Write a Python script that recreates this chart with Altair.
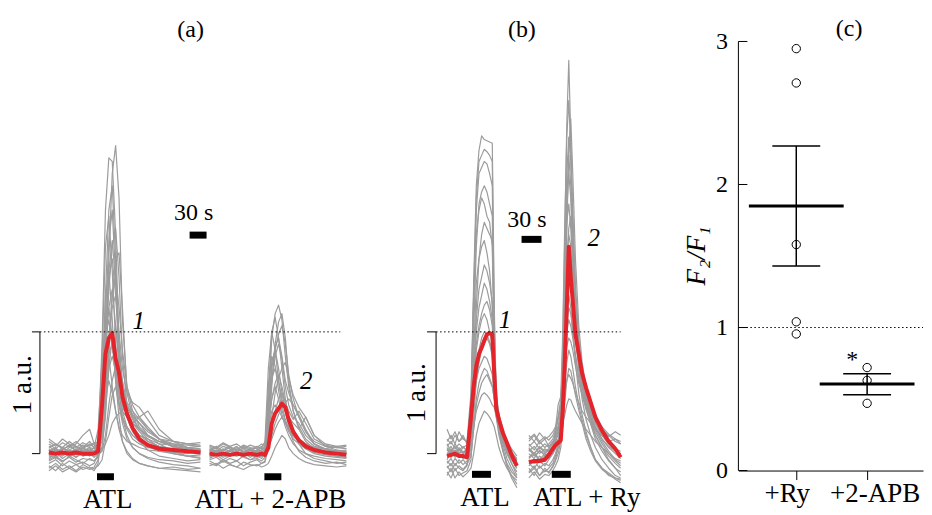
import altair as alt
import pandas as pd

FONT = "Liberation Serif"
GRAY = "#9c9c9c"
RED = "#e5232a"

# ---------------- panel (a): ATL (seconds, a.u.) ----------------
A1_T = [0, 12, 24, 36, 48, 60, 72, 80, 87, 94, 100, 106, 112, 118, 124, 130, 138, 148, 160, 175, 195, 220, 245, 268]
A1_RED = [0.01, 0.00, 0.01, 0.00, 0.01, 0.00, 0.00, 0.00, 0.02, 0.40, 0.82, 0.95, 0.99, 0.78, 0.66, 0.47, 0.33, 0.21, 0.12, 0.07, 0.04, 0.03, 0.02, 0.01]
A1_GRAY = [
    [0.02, 0.05, -0.01, 0.03, 0.00, 0.04, 0.02, 0.01, 0.03, 0.15, 0.70, 1.60, 2.30, 2.53, 2.10, 1.10, 0.55, 0.35, 0.22, 0.15, 0.10, 0.06, 0.04, 0.03],
    [-0.03, 0.00, 0.02, -0.02, 0.01, -0.01, 0.00, 0.02, 0.10, 0.90, 2.00, 2.43, 2.40, 1.80, 0.90, 0.50, 0.35, 0.25, 0.18, 0.10, 0.06, 0.03, 0.02, 0.00],
    [0.05, 0.08, 0.04, 0.06, 0.03, 0.07, 0.05, 0.04, 0.06, 0.40, 1.30, 2.00, 2.20, 1.60, 0.80, 0.45, 0.30, 0.22, 0.15, 0.12, 0.08, 0.07, 0.05, 0.06],
    [-0.08, -0.05, -0.10, -0.06, -0.09, -0.07, -0.10, -0.08, 0.00, 0.80, 1.70, 1.95, 1.50, 0.90, 0.50, 0.30, 0.15, 0.05, 0.00, -0.03, -0.05, -0.06, -0.08, -0.07],
    [0.10, 0.06, 0.12, 0.08, 0.05, 0.09, 0.06, 0.08, 0.10, 0.35, 0.90, 1.50, 1.75, 1.40, 0.90, 0.60, 0.42, 0.35, 0.28, 0.20, 0.12, 0.10, 0.08, 0.09],
    [0.00, 0.03, 0.00, 0.02, -0.01, 0.01, 0.03, 0.00, 0.02, 0.05, 0.30, 0.80, 1.30, 1.60, 1.65, 1.20, 0.50, 0.30, 0.25, 0.18, 0.12, 0.08, 0.05, 0.04],
    [-0.12, -0.08, -0.13, -0.10, -0.14, -0.09, -0.12, -0.11, -0.05, 0.60, 1.30, 1.50, 1.10, 0.60, 0.30, 0.10, 0.00, -0.05, -0.08, -0.10, -0.12, -0.11, -0.13, -0.12],
    [0.03, -0.02, 0.05, 0.01, 0.04, 0.00, 0.02, 0.05, 0.08, 0.30, 0.85, 1.20, 1.35, 1.05, 0.70, 0.48, 0.38, 0.30, 0.30, 0.22, 0.12, 0.06, 0.03, 0.02],
    [0.06, 0.02, 0.00, 0.05, 0.08, 0.15, 0.20, 0.08, 0.04, 0.50, 1.00, 1.20, 0.95, 0.60, 0.40, 0.28, 0.20, 0.12, 0.08, 0.05, 0.04, 0.03, 0.02, 0.01],
    [-0.05, -0.02, -0.06, -0.03, -0.07, -0.04, -0.05, -0.06, -0.03, 0.05, 0.35, 0.70, 0.95, 1.05, 0.80, 0.55, 0.40, 0.32, 0.25, 0.15, 0.08, 0.02, -0.02, -0.04],
    [0.12, 0.08, 0.05, 0.10, 0.06, 0.04, 0.08, 0.05, 0.06, 0.25, 0.60, 0.82, 0.90, 0.70, 0.48, 0.35, 0.40, 0.30, 0.20, 0.15, 0.10, 0.08, 0.07, 0.06],
    [-0.02, 0.01, -0.04, 0.00, -0.03, 0.01, -0.02, 0.00, -0.01, 0.02, 0.15, 0.40, 0.60, 0.72, 0.75, 0.55, 0.35, 0.25, 0.30, 0.20, 0.12, 0.05, 0.02, 0.00],
    [-0.10, -0.14, -0.08, -0.12, -0.15, -0.11, -0.13, -0.12, -0.10, -0.05, 0.10, 0.30, 0.48, 0.55, 0.40, 0.25, 0.12, 0.05, 0.00, -0.04, -0.07, -0.09, -0.10, -0.12],
    [0.02, 0.04, 0.01, 0.03, 0.00, 0.02, 0.04, 0.01, 0.02, 0.03, 0.08, 0.15, 0.25, 0.30, 0.33, 0.35, 0.30, 0.22, 0.15, 0.10, 0.06, 0.04, 0.02, 0.03],
    [0.00, 0.02, 0.04, 0.01, 0.03, 0.05, 0.02, 0.00, 0.03, 0.20, 0.75, 1.35, 1.70, 1.85, 1.45, 0.80, 0.40, 0.28, 0.20, 0.14, 0.10, 0.06, 0.04, 0.02],
    [0.04, 0.00, 0.03, 0.07, 0.02, 0.05, 0.10, 0.05, 0.20, 0.75, 0.95, 0.80, 0.55, 0.35, 0.22, 0.15, 0.10, 0.08, 0.05, 0.03, 0.02, 0.01, 0.00, 0.02],
    [-0.06, -0.03, -0.07, -0.02, -0.05, -0.08, -0.04, -0.06, -0.02, 0.35, 1.05, 1.45, 1.60, 1.30, 0.85, 0.50, 0.30, 0.18, 0.10, 0.03, -0.02, -0.04, -0.06, -0.05],
    [0.08, 0.04, 0.09, 0.06, 0.10, 0.05, 0.07, 0.09, 0.06, 0.15, 0.50, 0.95, 1.20, 1.30, 1.00, 0.70, 0.50, 0.42, 0.38, 0.28, 0.15, 0.10, 0.08, 0.07],
    [-0.04, 0.00, -0.02, 0.02, -0.03, 0.01, -0.01, 0.00, 0.10, 0.60, 0.95, 1.10, 0.90, 0.62, 0.42, 0.30, 0.22, 0.15, 0.10, 0.06, 0.02, 0.00, -0.02, -0.01],
    [0.00, -0.04, 0.02, -0.03, 0.01, -0.02, 0.00, -0.03, 0.00, 0.15, 0.45, 0.70, 0.80, 0.68, 0.50, 0.40, 0.32, 0.25, 0.20, 0.12, 0.05, 0.00, -0.02, -0.03],
    [0.03, 0.00, 0.05, 0.02, 0.00, 0.03, 0.01, 0.02, 0.05, 0.30, 1.10, 1.75, 2.00, 1.45, 0.70, 0.35, 0.22, 0.15, 0.10, 0.08, 0.05, 0.03, 0.02, 0.04],
    [-0.14, -0.10, -0.15, -0.12, -0.09, -0.13, -0.11, -0.14, -0.08, 0.20, 0.45, 0.60, 0.50, 0.35, 0.20, 0.10, 0.02, -0.04, -0.08, -0.10, -0.12, -0.13, -0.14, -0.15],
    [0.01, 0.04, 0.00, 0.03, 0.06, 0.02, 0.05, 0.02, 0.04, 0.10, 0.45, 0.95, 1.30, 1.45, 1.20, 0.85, 0.55, 0.40, 0.30, 0.35, 0.20, 0.10, 0.05, 0.03],
]

# ---------------- panel (a): ATL + 2-APB ----------------
A2_T = [0, 12, 24, 36, 48, 60, 72, 84, 92, 98, 104, 110, 116, 122, 128, 134, 140, 148, 158, 170, 185, 205, 225, 242]
A2_RED = [0.00, -0.01, 0.00, -0.01, 0.00, -0.01, 0.00, -0.01, 0.00, -0.01, 0.05, 0.25, 0.33, 0.37, 0.41, 0.38, 0.28, 0.18, 0.11, 0.06, 0.03, 0.01, 0.00, -0.01]
A2_GRAY = [
    [0.02, 0.05, 0.00, 0.03, 0.06, 0.01, 0.04, 0.02, 0.03, 0.05, 0.40, 0.95, 1.15, 1.22, 1.10, 0.80, 0.55, 0.35, 0.22, 0.12, 0.06, 0.04, 0.02, 0.03],
    [-0.04, -0.01, -0.05, -0.02, 0.00, -0.03, -0.05, -0.02, -0.04, 0.00, 0.50, 1.00, 1.12, 0.95, 0.70, 0.45, 0.30, 0.18, 0.10, 0.04, 0.00, -0.02, -0.03, -0.04],
    [0.05, 0.02, 0.06, 0.04, 0.01, 0.05, 0.03, 0.06, 0.04, 0.05, 0.20, 0.60, 0.85, 0.98, 1.05, 0.90, 0.65, 0.45, 0.30, 0.18, 0.10, 0.06, 0.05, 0.04],
    [0.00, 0.03, 0.01, -0.02, 0.02, 0.00, 0.03, 0.01, -0.01, 0.02, 0.30, 0.70, 0.88, 0.95, 0.80, 0.60, 0.50, 0.40, 0.32, 0.20, 0.08, 0.03, 0.01, 0.02],
    [-0.08, -0.10, -0.06, -0.09, -0.11, -0.07, -0.09, -0.10, -0.08, -0.06, 0.35, 0.75, 0.85, 0.70, 0.50, 0.35, 0.22, 0.10, 0.02, -0.03, -0.06, -0.08, -0.07, -0.09],
    [0.03, 0.00, 0.04, 0.02, 0.05, 0.02, 0.00, 0.03, 0.02, 0.03, 0.10, 0.30, 0.50, 0.62, 0.70, 0.75, 0.62, 0.48, 0.38, 0.30, 0.15, 0.06, 0.03, 0.02],
    [0.06, 0.04, 0.08, 0.05, 0.03, 0.07, 0.05, 0.04, 0.06, 0.05, 0.20, 0.45, 0.58, 0.65, 0.55, 0.42, 0.35, 0.28, 0.35, 0.25, 0.12, 0.07, 0.05, 0.06],
    [-0.05, -0.03, -0.07, -0.04, -0.06, -0.02, -0.05, -0.04, -0.06, -0.03, 0.25, 0.45, 0.55, 0.45, 0.32, 0.22, 0.15, 0.08, 0.03, 0.00, -0.02, -0.04, -0.05, -0.06],
    [0.01, 0.03, 0.00, 0.02, 0.04, 0.01, 0.03, 0.00, 0.02, 0.01, 0.05, 0.15, 0.25, 0.32, 0.38, 0.42, 0.45, 0.40, 0.30, 0.18, 0.08, 0.04, 0.02, 0.01],
    [-0.02, 0.00, -0.03, -0.01, -0.02, 0.00, -0.01, -0.03, -0.02, -0.01, 0.05, 0.12, 0.20, 0.26, 0.30, 0.25, 0.18, 0.12, 0.08, 0.04, 0.01, -0.01, -0.02, -0.03],
    [0.04, 0.01, 0.03, 0.06, 0.02, 0.04, 0.01, 0.03, 0.05, 0.10, 0.70, 1.00, 0.85, 0.60, 0.40, 0.28, 0.20, 0.14, 0.10, 0.06, 0.04, 0.02, 0.03, 0.01],
    [-0.10, -0.08, -0.12, -0.09, -0.11, -0.13, -0.10, -0.09, -0.11, -0.10, -0.08, -0.02, 0.05, 0.10, 0.15, 0.12, 0.05, 0.00, -0.04, -0.07, -0.09, -0.10, -0.11, -0.10],
    [0.02, -0.01, 0.03, 0.00, 0.02, -0.02, 0.01, 0.03, 0.00, 0.02, 0.25, 0.60, 0.80, 0.90, 0.78, 0.55, 0.40, 0.30, 0.25, 0.15, 0.08, 0.03, 0.01, 0.00],
    [-0.03, 0.00, -0.02, 0.02, -0.01, 0.01, -0.03, 0.00, -0.02, 0.00, 0.15, 0.55, 0.90, 1.08, 1.15, 0.95, 0.60, 0.35, 0.20, 0.10, 0.04, 0.00, -0.02, -0.03],
    [0.07, 0.05, 0.09, 0.06, 0.08, 0.04, 0.07, 0.05, 0.08, 0.06, 0.35, 0.62, 0.70, 0.60, 0.45, 0.35, 0.30, 0.25, 0.20, 0.30, 0.15, 0.08, 0.06, 0.07],
    [-0.06, -0.09, -0.05, -0.08, -0.06, -0.10, -0.07, -0.05, -0.08, -0.07, 0.05, 0.20, 0.35, 0.45, 0.50, 0.42, 0.30, 0.18, 0.08, 0.00, -0.04, -0.06, -0.08, -0.07],
    [0.00, 0.02, -0.01, 0.03, 0.00, 0.02, 0.04, 0.01, 0.03, 0.06, 0.55, 0.80, 0.72, 0.52, 0.36, 0.26, 0.20, 0.15, 0.12, 0.08, 0.05, 0.02, 0.01, 0.00],
    [0.03, 0.06, 0.02, 0.05, 0.03, 0.06, 0.04, 0.02, 0.05, 0.03, 0.20, 0.35, 0.40, 0.36, 0.30, 0.25, 0.22, 0.18, 0.12, 0.08, 0.05, 0.04, 0.06, 0.04],
]

# ---------------- panel (b): ATL ----------------
B1_T = [0, 6, 12, 18, 24, 30, 36, 40, 44, 48, 52, 56, 60, 64, 68, 71, 74, 78, 84, 90, 97, 105]
B1_RED = [-0.02, -0.01, 0.00, -0.02, -0.02, -0.03, 0.30, 0.55, 0.72, 0.82, 0.87, 0.93, 0.98, 0.99, 0.98, 0.65, 0.37, 0.28, 0.17, 0.09, -0.01, -0.10]
B1_GRAY = [
    [0.05, 0.00, 0.08, 0.03, 0.06, 0.02, 0.40, 1.40, 2.20, 2.49, 2.61, 2.58, 2.57, 2.56, 2.55, 1.20, 0.45, 0.30, 0.15, 0.05, -0.05, -0.12],
    [-0.05, 0.02, -0.03, 0.00, -0.04, 0.01, 0.30, 1.20, 2.00, 2.30, 2.35, 2.40, 2.38, 2.30, 2.20, 0.90, 0.40, 0.25, 0.12, 0.02, -0.08, -0.15],
    [0.10, 0.15, 0.08, 0.18, 0.12, 0.10, 0.50, 1.30, 1.80, 2.00, 2.10, 2.05, 1.95, 1.90, 1.70, 0.80, 0.45, 0.30, 0.18, 0.10, 0.02, -0.05],
    [-0.10, -0.15, -0.08, -0.12, -0.14, -0.10, 0.10, 0.80, 1.40, 1.60, 1.70, 1.75, 1.65, 1.50, 1.20, 0.60, 0.30, 0.15, 0.02, -0.08, -0.15, -0.20],
    [0.02, 0.06, 0.00, 0.04, 0.01, 0.03, 0.20, 0.70, 1.00, 1.20, 1.30, 1.40, 1.35, 1.25, 1.10, 0.70, 0.40, 0.25, 0.12, 0.05, 0.00, -0.06],
    [0.20, 0.12, 0.18, 0.10, 0.15, 0.08, 0.25, 0.60, 0.85, 1.00, 1.10, 1.15, 1.10, 1.00, 0.90, 0.65, 0.45, 0.32, 0.20, 0.10, 0.04, -0.02],
    [-0.15, -0.20, -0.12, -0.18, -0.16, -0.14, -0.05, 0.30, 0.60, 0.75, 0.85, 0.90, 0.95, 0.90, 0.80, 0.55, 0.35, 0.20, 0.05, -0.10, -0.20, -0.28],
    [0.00, -0.03, 0.02, -0.02, 0.00, -0.04, 0.10, 0.40, 0.60, 0.70, 0.75, 0.80, 0.78, 0.72, 0.65, 0.50, 0.38, 0.25, 0.12, 0.02, -0.05, -0.10],
    [-0.08, -0.04, -0.10, -0.05, -0.09, -0.06, 0.00, 0.20, 0.40, 0.50, 0.58, 0.62, 0.65, 0.60, 0.55, 0.45, 0.35, 0.22, 0.10, 0.00, -0.08, -0.18],
    [0.06, 0.10, 0.04, 0.08, 0.05, 0.07, 0.10, 0.22, 0.35, 0.42, 0.48, 0.50, 0.48, 0.45, 0.40, 0.38, 0.30, 0.20, 0.10, 0.05, 0.00, -0.04],
    [-0.18, -0.12, -0.20, -0.15, -0.19, -0.16, -0.12, 0.00, 0.15, 0.25, 0.30, 0.35, 0.33, 0.30, 0.26, 0.22, 0.15, 0.05, -0.05, -0.12, -0.18, -0.22],
    [0.04, -0.02, 0.03, 0.00, 0.02, -0.01, 0.15, 0.60, 1.20, 1.60, 1.80, 1.90, 1.85, 1.80, 1.75, 1.00, 0.50, 0.32, 0.18, 0.08, 0.00, -0.08],
    [-0.02, 0.03, 0.00, 0.05, 0.01, 0.04, 0.35, 1.30, 2.10, 2.40, 2.45, 2.50, 2.48, 2.45, 2.40, 1.10, 0.42, 0.28, 0.14, 0.04, -0.04, -0.10],
    [0.08, 0.02, 0.06, 0.00, 0.05, 0.03, 0.25, 1.00, 1.70, 2.05, 2.15, 2.20, 2.15, 2.05, 1.95, 0.85, 0.40, 0.25, 0.12, 0.03, -0.04, -0.12],
    [-0.06, -0.10, -0.04, -0.08, -0.05, -0.09, 0.05, 0.55, 1.10, 1.35, 1.45, 1.55, 1.50, 1.40, 1.25, 0.70, 0.38, 0.22, 0.08, -0.04, -0.12, -0.20],
    [0.12, 0.08, 0.15, 0.10, 0.13, 0.09, 0.20, 0.45, 0.70, 0.85, 0.95, 1.00, 0.98, 0.92, 0.85, 0.60, 0.42, 0.30, 0.15, 0.06, 0.00, -0.05],
    [-0.12, -0.08, -0.14, -0.10, -0.13, -0.09, -0.02, 0.20, 0.45, 0.58, 0.65, 0.70, 0.68, 0.62, 0.56, 0.45, 0.32, 0.18, 0.02, -0.10, -0.18, -0.25],
    [0.00, 0.04, -0.02, 0.03, 0.00, 0.02, 0.12, 0.55, 0.90, 1.05, 1.15, 1.22, 1.25, 1.18, 1.05, 0.72, 0.42, 0.26, 0.12, 0.03, -0.03, -0.08],
]

# ---------------- panel (b): ATL + Ry ----------------
B2_T = [0, 8, 16, 24, 30, 36, 40, 44, 48, 51, 54, 57, 60, 63, 66, 70, 75, 80, 86, 93, 100, 110, 120, 130, 138]
B2_RED = [-0.07, -0.06, -0.06, -0.05, -0.01, 0.04, 0.07, 0.09, 0.11, 0.36, 0.75, 1.20, 1.70, 1.45, 1.25, 0.98, 0.82, 0.66, 0.54, 0.42, 0.30, 0.19, 0.10, 0.04, -0.03]
B2_GRAY = [
    [0.00, -0.04, 0.03, -0.02, 0.01, 0.05, 0.10, 0.20, 0.35, 0.90, 1.80, 2.70, 3.23, 2.60, 1.90, 1.30, 0.90, 0.65, 0.45, 0.30, 0.20, 0.10, 0.02, -0.05, -0.08],
    [-0.08, -0.12, -0.06, -0.10, -0.05, 0.00, 0.20, 0.40, 0.47, 1.00, 1.90, 2.60, 2.90, 2.50, 1.80, 1.20, 0.85, 0.60, 0.42, 0.28, 0.15, 0.05, -0.05, -0.12, -0.18],
    [0.10, 0.15, 0.08, 0.12, 0.06, 0.10, 0.12, 0.15, 0.25, 0.70, 1.50, 2.30, 2.60, 2.40, 2.00, 1.40, 0.95, 0.70, 0.52, 0.38, 0.25, 0.15, 0.08, 0.02, -0.02],
    [-0.15, -0.10, -0.18, -0.12, -0.16, -0.10, -0.05, 0.05, 0.15, 0.60, 1.30, 2.00, 2.30, 2.10, 1.60, 1.10, 0.70, 0.45, 0.28, 0.15, 0.05, -0.05, -0.12, -0.18, -0.20],
    [0.05, 0.00, 0.06, 0.02, 0.04, 0.08, 0.15, 0.30, 0.40, 0.75, 1.40, 1.90, 2.05, 1.85, 1.50, 1.10, 0.80, 0.60, 0.48, 0.35, 0.25, 0.15, 0.08, 0.04, 0.02],
    [-0.05, -0.08, -0.02, -0.06, -0.03, 0.00, 0.05, 0.10, 0.20, 0.50, 1.10, 1.60, 1.80, 1.70, 1.40, 1.05, 0.75, 0.55, 0.40, 0.28, 0.18, 0.08, 0.00, -0.06, -0.10],
    [0.15, 0.10, 0.17, 0.12, 0.14, 0.18, 0.22, 0.30, 0.45, 0.70, 1.10, 1.40, 1.50, 1.45, 1.25, 0.95, 0.70, 0.55, 0.45, 0.35, 0.28, 0.20, 0.15, 0.10, 0.08],
    [-0.12, -0.18, -0.10, -0.15, -0.12, -0.08, -0.02, 0.05, 0.10, 0.40, 0.85, 1.15, 1.30, 1.20, 1.00, 0.75, 0.50, 0.32, 0.18, 0.05, -0.05, -0.12, -0.18, -0.20, -0.22],
    [0.02, 0.06, 0.00, 0.04, 0.02, 0.06, 0.10, 0.18, 0.30, 0.50, 0.80, 1.00, 1.10, 1.05, 0.95, 0.80, 0.62, 0.50, 0.40, 0.30, 0.22, 0.12, 0.06, 0.02, 0.00],
    [-0.20, -0.15, -0.21, -0.17, -0.18, -0.14, -0.10, -0.05, 0.05, 0.25, 0.55, 0.75, 0.85, 0.80, 0.70, 0.55, 0.40, 0.28, 0.15, 0.05, -0.05, -0.12, -0.16, -0.20, -0.21],
    [0.08, 0.03, 0.10, 0.05, 0.08, 0.12, 0.18, 0.22, 0.28, 0.38, 0.50, 0.60, 0.65, 0.62, 0.58, 0.50, 0.42, 0.35, 0.30, 0.25, 0.20, 0.15, 0.10, 0.12, 0.08],
    [0.03, 0.00, 0.05, 0.01, 0.03, 0.02, 0.05, 0.10, 0.15, 0.40, 1.00, 1.80, 2.50, 2.75, 2.30, 1.60, 1.05, 0.75, 0.55, 0.40, 0.28, 0.18, 0.10, 0.04, 0.00],
    [-0.03, 0.01, -0.05, 0.00, -0.02, 0.03, 0.08, 0.12, 0.18, 0.25, 0.32, 0.40, 0.45, 0.44, 0.40, 0.35, 0.30, 0.25, 0.20, 0.15, 0.10, 0.05, 0.00, -0.04, -0.06],
    [0.04, -0.02, 0.02, 0.00, 0.03, 0.06, 0.10, 0.16, 0.25, 0.65, 1.40, 2.10, 2.45, 2.20, 1.70, 1.20, 0.85, 0.62, 0.46, 0.33, 0.22, 0.12, 0.05, 0.00, -0.04],
    [-0.10, -0.06, -0.12, -0.08, -0.10, -0.05, 0.00, 0.08, 0.15, 0.45, 1.00, 1.55, 1.85, 1.95, 1.65, 1.20, 0.80, 0.55, 0.38, 0.24, 0.12, 0.02, -0.06, -0.12, -0.15],
    [0.06, 0.10, 0.04, 0.08, 0.05, 0.09, 0.14, 0.22, 0.35, 0.60, 1.00, 1.40, 1.60, 1.55, 1.35, 1.05, 0.78, 0.60, 0.48, 0.38, 0.30, 0.22, 0.16, 0.12, 0.10],
    [-0.04, 0.00, -0.06, -0.02, -0.04, 0.00, 0.04, 0.10, 0.20, 0.45, 0.80, 1.05, 1.20, 1.15, 1.00, 0.82, 0.62, 0.48, 0.36, 0.25, 0.15, 0.05, -0.02, -0.08, -0.12],
    [0.12, 0.16, 0.10, 0.14, 0.11, 0.15, 0.20, 0.28, 0.38, 0.52, 0.72, 0.88, 0.95, 0.92, 0.85, 0.72, 0.58, 0.48, 0.40, 0.33, 0.27, 0.20, 0.14, 0.18, 0.15],
    [-0.16, -0.12, -0.18, -0.14, -0.15, -0.11, -0.06, 0.00, 0.10, 0.22, 0.42, 0.60, 0.70, 0.68, 0.60, 0.48, 0.36, 0.25, 0.12, 0.02, -0.06, -0.13, -0.17, -0.21, -0.24],
]

# ---------------- panel (c) ----------------
C_GROUPS = [1, 2]
C_RY = [2.95, 2.71, 1.58, 1.04, 0.955]
C_APB = [0.72, 0.63, 0.47]
C_MEAN = [1.85, 0.605]
C_SEM_HI = [2.27, 0.677]
C_SEM_LO = [1.43, 0.53]
C_Y_TICKS = [0, 1, 2, 3]

# ---------------- layout constants ----------------
H = 499
Y_DOM = [-0.434, 3.656]
WA, WB, WC, HC = 377, 354, 185, 463
XA_DOM = [-70.6, 594.7]
XB_DOM = [-93.0, 438.0]
A2_OFF = 284.1
B2_OFF = 123.0
XC_DOM = [0.183, 2.789]
YC_DOM = [0, 3.2302]


def trace_frames(tag, T, red, grays, off):
    rows = []
    for i, g in enumerate(grays):
        assert len(g) == len(T), (tag, i, len(g), len(T))
        for t, v in zip(T, g):
            rows.append({"x": t + off, "y": v, "id": f"{tag}{i}"})
    assert len(red) == len(T), (tag, "red")
    reds = [{"x": t + off, "y": v, "id": f"{tag}r"} for t, v in zip(T, red)]
    return rows, reds


def trace_panel(parts, XE, YE, segs, texts, width):
    gray_rows, red_rows = [], []
    for p in parts:
        g, r = trace_frames(*p)
        gray_rows += g
        red_rows += r
    layers = [
        alt.Chart(pd.DataFrame(gray_rows)).mark_line(color=GRAY, strokeWidth=1.2, strokeJoin="round")
        .encode(x=XE("x"), y=YE("y"), detail="id:N"),
        alt.Chart(pd.DataFrame(red_rows)).mark_line(color=RED, strokeWidth=4, strokeJoin="round")
        .encode(x=XE("x"), y=YE("y"), detail="id:N"),
    ]
    for df, kw in segs:
        layers.append(alt.Chart(pd.DataFrame(df)).mark_rule(color="black", **kw)
                      .encode(x=XE("x"), y=YE("y"), x2="x2:Q", y2="y2:Q"))
    for df, kw in texts:
        base = dict(font=FONT, color="black")
        base.update(kw)
        layers.append(alt.Chart(pd.DataFrame(df)).mark_text(**base)
                      .encode(x=XE("x"), y=YE("y"), text="text:N"))
    return alt.layer(*layers).properties(width=width, height=H)


def mkX(dom):
    return lambda f: alt.X(f"{f}:Q", scale=alt.Scale(domain=dom, nice=False, zero=False), axis=None)


YAB = lambda f: alt.Y(f"{f}:Q", scale=alt.Scale(domain=Y_DOM, nice=False, zero=False), axis=None)

# panel (a)
XA = mkX(XA_DOM)
segs_a = [
    ({"x": [-15.9], "x2": [515.3], "y": [1.0], "y2": [1.0]}, dict(strokeWidth=1, strokeDash=[1.5, 2.5])),
    ({"x": [-15.9, -30.0, -30.0], "x2": [-15.9, -15.9, -15.9], "y": [0.0, 0.0, 1.0], "y2": [1.0, 0.0, 1.0]}, dict(strokeWidth=1)),
    ({"x": [85, 97 + A2_OFF, 248.8], "x2": [115, 127 + A2_OFF, 278.8], "y": [-0.19, -0.19, 1.795], "y2": [-0.19, -0.19, 1.795]}, dict(strokeWidth=7)),
]
texts_a = [
    ({"x": [250.6], "y": [3.48], "text": ["(a)"]}, dict(fontSize=24, baseline="middle")),
    ({"x": [255.9], "y": [1.98], "text": ["30 s"]}, dict(fontSize=24, baseline="middle")),
    ({"x": [104, 391.7], "y": [-0.45, -0.45], "text": ["ATL", "ATL + 2-APB"]}, dict(fontSize=27, baseline="alphabetic")),
    ({"x": [158.8, 455.3], "y": [1.09, 0.60], "text": ["1", "2"]}, dict(fontSize=25, fontStyle="italic", baseline="middle")),
    ({"x": [-45.9], "y": [0.566], "text": ["1 a.u."]}, dict(fontSize=27, angle=270, baseline="middle")),
]
panel_a = trace_panel([("a1_", A1_T, A1_RED, A1_GRAY, 0.0), ("a2_", A2_T, A2_RED, A2_GRAY, A2_OFF)],
                      XA, YAB, segs_a, texts_a, WA)

# panel (b)
XB = mkX(XB_DOM)
segs_b = [
    ({"x": [-16.5], "x2": [261.0], "y": [1.0], "y2": [1.0]}, dict(strokeWidth=1, strokeDash=[1.5, 2.5])),
    ({"x": [-16.5, -30.0, -30.0], "x2": [-16.5, -16.5, -16.5], "y": [0.0, 0.0, 1.0], "y2": [1.0, 0.0, 1.0]}, dict(strokeWidth=1)),
    ({"x": [37.5, 34.5 + B2_OFF, 112.0], "x2": [66.0, 63.0 + B2_OFF, 142.0], "y": [-0.17, -0.17, 1.76], "y2": [-0.17, -0.17, 1.76]}, dict(strokeWidth=7)),
]
texts_b = [
    ({"x": [112.5], "y": [3.48], "text": ["(b)"]}, dict(fontSize=24, baseline="middle")),
    ({"x": [120.0], "y": [1.92], "text": ["30 s"]}, dict(fontSize=24, baseline="middle")),
    ({"x": [57.0, 210.0], "y": [-0.434, -0.434], "text": ["ATL", "ATL + Ry"]}, dict(fontSize=27, baseline="alphabetic")),
    ({"x": [87.0, 220.5], "y": [1.10, 1.77], "text": ["1", "2"]}, dict(fontSize=25, fontStyle="italic", baseline="middle")),
    ({"x": [-45.0], "y": [0.5], "text": ["1 a.u."]}, dict(fontSize=27, angle=270, baseline="middle")),
]
panel_b = trace_panel([("b1_", B1_T, B1_RED, B1_GRAY, 0.0), ("b2_", B2_T, B2_RED, B2_GRAY, B2_OFF)],
                      XB, YAB, segs_b, texts_b, WB)

# panel (c)
AXC = alt.Axis(values=C_GROUPS, labels=False, tickSize=9, tickColor="black", domainColor="black",
               grid=False, title=None, tickWidth=1, domainWidth=1)
AYC = alt.Axis(values=C_Y_TICKS, ticks=False, domain=False, grid=False, title=None,
               labelFont=FONT, labelFontSize=24, labelColor="black", labelPadding=11)
XC = lambda f: alt.X(f"{f}:Q", scale=alt.Scale(domain=XC_DOM, nice=False, zero=False), axis=AXC)
YC = lambda f: alt.Y(f"{f}:Q", scale=alt.Scale(domain=YC_DOM, nice=False, zero=False), axis=AYC)

pts = pd.DataFrame({"x": [1] * len(C_RY) + [2] * len(C_APB), "y": C_RY + C_APB})
stats = pd.DataFrame({"x": C_GROUPS, "m": C_MEAN, "hi": C_SEM_HI, "lo": C_SEM_LO})

c_layers = [
    alt.Chart(pd.DataFrame({"y": [0], "y2": [3]})).mark_rule(color="black", strokeWidth=1)
    .encode(x=alt.value(0), y=YC("y"), y2="y2:Q"),
    alt.Chart(pd.DataFrame({"y": C_Y_TICKS})).mark_rule(color="black", strokeWidth=1)
    .encode(x=alt.value(0), x2=alt.value(9), y=YC("y")),
    alt.Chart(pd.DataFrame({"y": [1]})).mark_rule(color="black", strokeWidth=1, strokeDash=[1.5, 2.5])
    .encode(x=alt.value(0), x2=alt.value(WC), y=YC("y")),
    alt.Chart(stats).mark_rule(color="black", strokeWidth=1.5).encode(x=XC("x"), y=YC("lo"), y2="hi:Q"),
    alt.Chart(stats).mark_tick(orient="horizontal", color="black", size=48, thickness=1.5, opacity=1)
    .encode(x=XC("x"), y=YC("hi")),
    alt.Chart(stats).mark_tick(orient="horizontal", color="black", size=48, thickness=1.5, opacity=1)
    .encode(x=XC("x"), y=YC("lo")),
    alt.Chart(stats).mark_tick(orient="horizontal", color="black", size=95, thickness=3, opacity=1)
    .encode(x=XC("x"), y=YC("m")),
    alt.Chart(pts).mark_point(shape="circle", filled=False, size=70, color="black", strokeWidth=1, opacity=1)
    .encode(x=XC("x"), y=YC("y")),
    alt.Chart(pd.DataFrame({"x": [1.746], "y": [3.084], "text": ["(c)"]}))
    .mark_text(font=FONT, fontSize=24, baseline="middle", color="black")
    .encode(x=XC("x"), y=YC("y"), text="text:N"),
    alt.Chart(pd.DataFrame({"x": [1.789], "y": [0.77], "text": ["*"]}))
    .mark_text(font=FONT, fontSize=24, baseline="middle", color="black")
    .encode(x=XC("x"), y=YC("y"), text="text:N"),
    alt.Chart(pd.DataFrame({"x": [0.873, 2.113], "y": [-0.223, -0.223], "text": ["+Ry", "+2-APB"]}))
    .mark_text(font=FONT, fontSize=27, baseline="alphabetic", color="black")
    .encode(x=XC("x"), y=YC("y"), text="text:N"),
    alt.Chart(pd.DataFrame({"y": [1.5], "text": ["F\u2082/F\u2081"]}))
    .mark_text(font=FONT, fontSize=27, fontStyle="italic", angle=270, baseline="middle", color="black")
    .encode(x=alt.value(-41), y=YC("y"), text="text:N"),
]
panel_c = alt.layer(*c_layers).properties(width=WC, height=HC)

chart = alt.hconcat(panel_a, panel_b, panel_c, spacing=0, bounds="flush", padding=0).configure_view(stroke=None)
chart.save("out.html", embed_options={"renderer": "svg", "actions": False})
